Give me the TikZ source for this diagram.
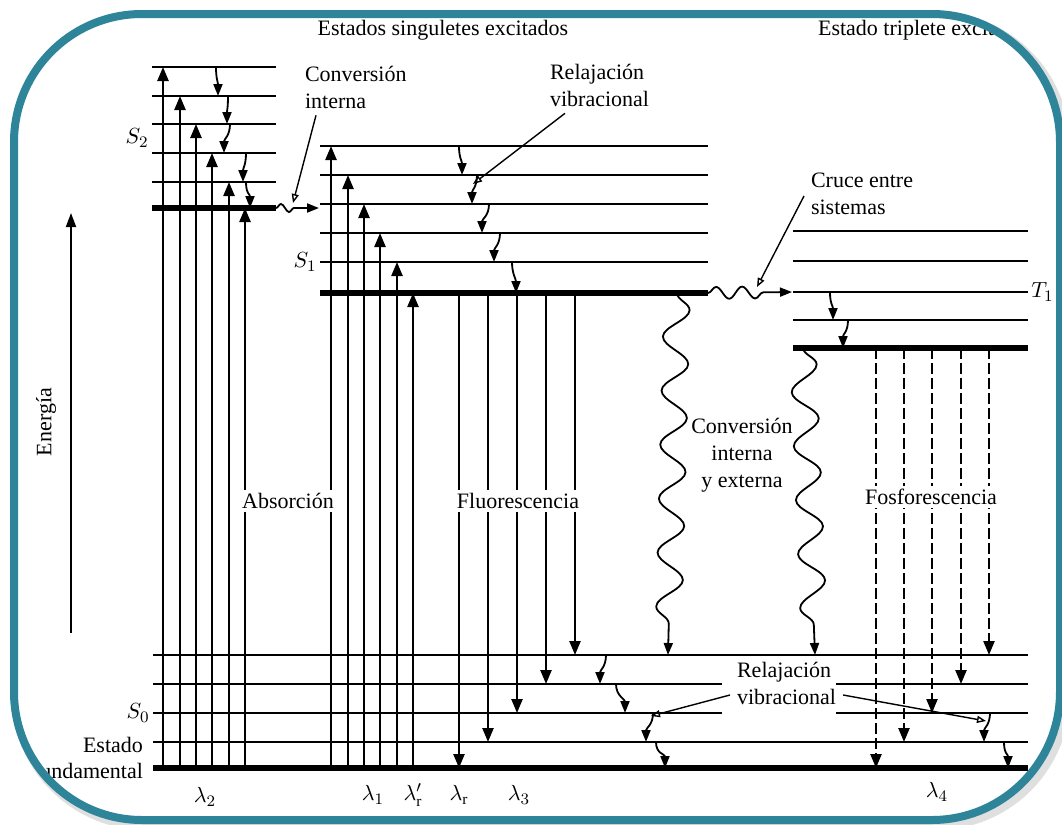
\documentclass[tikz,border=0pt]{standalone}
\usepackage{fontspec}
\setmainfont{Liberation Serif}
\usetikzlibrary{arrows.meta,decorations.pathmorphing}

\definecolor{marco}{RGB}{46,132,153}

\tikzset{
  nivel/.style={line width=1pt},
  grueso/.style={line width=3pt},
  flecha/.style={line width=1.2pt,-{Triangle[length=7pt,width=5.5pt]}},
  fosfo/.style={flecha,dash pattern=on 5.5pt off 2pt},
  relaj/.style={line width=0.9pt,-{Triangle[length=6pt,width=4.5pt]}},
  onda/.style={line width=0.9pt,-{Triangle[length=6pt,width=4.5pt]},decorate},
  guia/.style={line width=0.7pt,-{Triangle[open,length=4.5pt,width=3.5pt]}},
  blanco/.style={fill=white,inner sep=1.5pt}
}

\begin{document}
\begin{tikzpicture}[x=0.5pt,y=-0.5pt,font=\fontsize{11}{13.5}\selectfont]
\useasboundingbox (0,0) rectangle (1062,825);
\fill[white] (0,0) rectangle (1062,825);
% sombra del marco
\draw[gray!25,line width=6pt,rounded corners=64pt] (18,18) rectangle (1064,824);
\fill[white,rounded corners=64pt] (14,14) rectangle (1060,820);
\begin{scope}
\clip[rounded corners=64pt] (14,14) rectangle (1060,820);

% titulos
\node (singuletes) at (443,30) {Estados singuletes excitados};
\node[anchor=west] (triplete) at (811,30) {Estado triplete excitado};

% eje de energia
\node[rotate=90] (energia) at (46,422) {Energía};
\coordinate (ebase) at (71,633);
\coordinate (etope) at (71,213);
\draw[line width=0.9pt,-{Triangle[length=7pt,width=5pt]}] (ebase) -- (etope);

% niveles S2
\foreach \y in {67,96,124,153,182} \draw[nivel] (152,\y) -- (276,\y);
\draw[grueso] (152,208) -- (276,208);
% niveles S1
\foreach \y in {146,175,204,233,262} \draw[nivel] (320,\y) -- (708,\y);
\draw[grueso] (320,293) -- (708,293);
% niveles T1
\foreach \y in {231,261,292,320} \draw[nivel] (793,\y) -- (1028,\y);
\draw[grueso] (793,348) -- (1028,348);
% niveles S0
\foreach \y in {655,742} \draw[nivel] (153,\y) -- (1028,\y);
\foreach \y in {684,713} {
  \draw[nivel] (153,\y) -- (722,\y);
  \draw[nivel] (836,\y) -- (1028,\y);
}
\draw[grueso] (153,768) -- (1028,768);

% absorcion
\foreach \x/\y in {163/67,180/96,196/124,212/153,229/182,245/208,
                   331/146,348/175,364/204,380/233,397/262,413/293}
  \draw[flecha] (\x,768) -- (\x,\y);
% fluorescencia
\foreach \x/\y in {459/768,488/742,517/713,546/684,575/655}
  \draw[flecha] (\x,293) -- (\x,\y);
% fosforescencia
\foreach \x/\y in {876/768,904/742,932/713,961/684,989/655}
  \draw[fosfo] (\x,348) -- (\x,\y);

% relajacion vibracional
\foreach \xa/\ya/\xb/\yb in {216/67/218/96,228/96/227/124,230/124/224/153,246/153/243/182,246/182/250/208,
    459/146/462/175,477/175/472/204,489/204/482/233,500/233/494/262,512/262/516/293,
    830/292/833/320,848/320/843/348,
    606/655/600/684,616/684/625/713,653/713/646/742,656/742/665/768,990/713/984/742,1004/742/1008/768}
  \draw[relaj] (\xa,\ya) .. controls (\xa,\ya+12) and (\xb,\yb-14) .. (\xb,\yb);

% conversion interna y cruce entre sistemas
\draw[onda,decoration={snake,amplitude=2pt,segment length=8pt,post length=9pt}] (276,208) -- (319,208);
\draw[onda,decoration={snake,amplitude=3pt,segment length=13pt,post length=14pt}] (708,293) -- (792,292);
\draw[onda,decoration={snake,amplitude=6.5pt,segment length=27pt,post length=8pt}] (677,293) -- (668,655);
\draw[onda,decoration={snake,amplitude=6.5pt,segment length=27pt,post length=8pt}] (803,348) -- (815,655);

% etiquetas de procesos
\node[blanco] (absor) at (288,501) {Absorción};
\node[blanco] (fluor) at (518,501) {Fluorescencia};
\node[blanco] (fosfor) at (931,497) {Fosforescencia};
\node[align=center] (convie) at (742,455) {Conversión\\interna\\y externa};
\node[align=left,anchor=west] (convint) at (298,87) {Conversión\\interna};
\node[align=left,anchor=west] (relvib1) at (543,85) {Relajación\\vibracional};
\node[align=left,anchor=west] (cruce) at (804,194) {Cruce entre\\sistemas};
\node[align=left,anchor=west] (relvib2) at (730,683) {Relajación\\vibracional};

% etiquetas de estados
\node[anchor=east,inner sep=1pt] (S2) at (151,138) {$S_2$};
\node[anchor=east,inner sep=1pt] (S1) at (319,262) {$S_1$};
\node[anchor=east,inner sep=1pt] (S0) at (152,713) {$S_0$};
\node[anchor=west,inner sep=0pt] (T1) at (1031,292) {$T_1$};
\node[anchor=east] (estado) at (150,745) {Estado};
\node[anchor=east] (fund) at (150,771) {Fundamental};

% longitudes de onda
\node (l2) at (205,797) {$\lambda_2$};
\node (l1) at (373,795) {$\lambda_1$};
\node (lrp) at (413,795) {$\lambda'_{\mathrm r}$};
\node (lr) at (459,795) {$\lambda_{\mathrm r}$};
\node (l3) at (519,795) {$\lambda_3$};
\node (l4) at (937,792) {$\lambda_4$};

% lineas guia
\coordinate (ic) at (293,203);
\coordinate (rv1) at (473,184);
\coordinate (cis) at (757,287);
\coordinate (rv2) at (651,716);
\coordinate (rv3) at (986,721);
\draw[guia] ([xshift=9pt]convint.south west) -- (ic);
\draw[guia] ([xshift=11pt]relvib1.south west) -- (rv1);
\draw[guia] ([yshift=-1pt]cruce.west) -- (cis);
\draw[guia] ([yshift=-6pt]relvib2.west) -- (rv2);
\draw[guia] ([yshift=-6pt]relvib2.east) -- (rv3);
\end{scope}
\draw[marco,line width=4pt,rounded corners=64pt] (14,14) rectangle (1060,820);
\end{tikzpicture}
\end{document}
